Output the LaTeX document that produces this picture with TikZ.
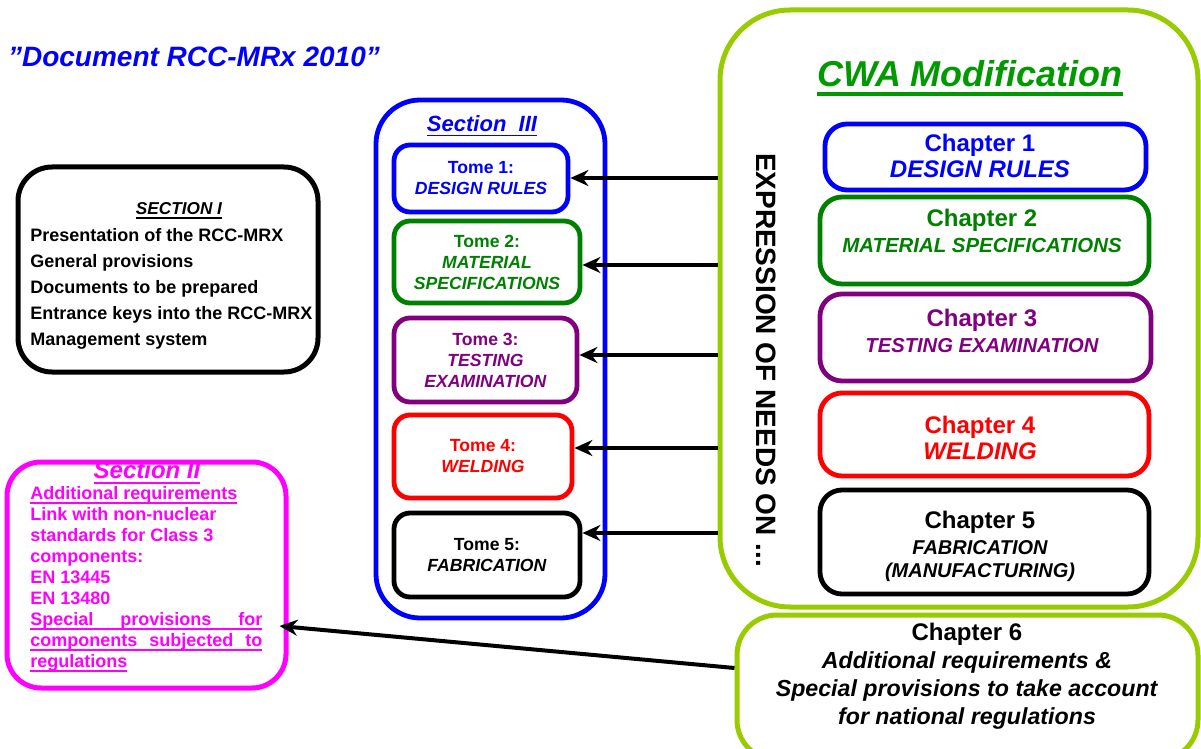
\documentclass[tikz,border=0pt]{standalone}
\usepackage{fontspec}
\setmainfont{Liberation Sans}
\usetikzlibrary{arrows.meta}

\definecolor{secblue}{RGB}{0,0,255}
\definecolor{tomegreen}{RGB}{0,128,0}
\definecolor{tomepurple}{RGB}{128,0,128}
\definecolor{secmagenta}{RGB}{255,0,255}
\definecolor{cwalime}{RGB}{153,204,0}
\definecolor{cwagreen}{RGB}{0,153,0}

% underlined box: optional rule thickness
\newcommand{\ulbox}[2][1pt]{\leavevmode\setbox0\hbox{#2}\rlap{\smash{\vrule width\wd0 height\dimexpr-0.15em\relax depth\dimexpr0.15em+#1\relax}}\box0}

\begin{document}
\begin{tikzpicture}[
    x=0.5pt, y=-0.5pt,
    box/.style={draw, line width=2.5pt, rounded corners=17pt, inner sep=0pt},
    tome/.style={draw, line width=2.4pt, rounded corners=8pt, align=center, inner sep=0pt, font=\bfseries\fontsize{8.8}{10.5}\selectfont},
    chapter/.style={draw, line width=2.4pt, rounded corners=11pt, inner sep=0pt},
    chaptext/.style={align=center, inner sep=0pt, font=\bfseries\fontsize{12}{13}\selectfont},
    arrow/.style={-{Stealth[length=9pt,width=8pt]}, line width=2pt}
]
    \useasboundingbox (0,0) rectangle (1201,749);
    \clip (0,0) rectangle (1201,749);

    % Title
    \node[text=secblue, font=\bfseries\itshape\fontsize{14}{16}\selectfont] (doctitle) at (194,57) {\symbol{34}Document RCC-MRx 2010\symbol{34}};

    % Section I
    \node[box, minimum width=150pt, minimum height=102.5pt] (sec1) at (168,269.5) {};
    \node[font=\bfseries\itshape\fontsize{8.6}{10}\selectfont] (sec1title) at (179,209) {\ulbox[0.6pt]{SECTION I}};
    \node[anchor=west, align=left, inner sep=0pt, font=\bfseries\fontsize{9}{13}\selectfont] (sec1list) at (30,289)
        {Presentation of the RCC-MRX\\ General provisions\\ Documents to be prepared\\ Entrance keys into the RCC-MRX\\ Management system};

    % Section II
    \node[box, draw=secmagenta, minimum width=139.5pt, minimum height=113pt] (sec2) at (146.5,575) {};
    \node[text=secmagenta, font=\bfseries\itshape\fontsize{12}{14}\selectfont] (sec2title) at (147,470) {\ulbox{Section II}};
    \node[anchor=west, align=left, inner sep=0pt, text=secmagenta, font=\bfseries\fontsize{9}{10.5}\selectfont] (sec2list) at (30,579)
        {\ulbox{Additional requirements}\\ Link with non-nuclear\\ standards for Class 3\\ components:\\ EN 13445\\ EN 13480\\
         \ulbox{\makebox[116pt][s]{Special provisions for}}\\ \ulbox{\makebox[116pt][s]{components subjected to}}\\ \ulbox{regulations}};

    % Section III
    \node[box, draw=secblue, line width=2.4pt, rounded corners=22pt, minimum width=114.5pt, minimum height=259pt] (sec3) at (490.5,359) {};
    \node[text=secblue, font=\bfseries\itshape\fontsize{11}{13}\selectfont] (sec3title) at (482,124) {\ulbox[0.6pt]{Section\ \ III}};

    \node[tome, draw=secblue, text=secblue, minimum width=87pt, minimum height=33.5pt] (t1) at (481,178.5) {Tome 1:\\ \textit{DESIGN RULES}};
    \node[tome, draw=tomegreen, text=tomegreen, minimum width=93pt, minimum height=41pt] (t2) at (487,262) {Tome 2:\\ \textit{MATERIAL}\\ \textit{SPECIFICATIONS}};
    \node[tome, draw=tomepurple, text=tomepurple, minimum width=91.5pt, minimum height=42pt] (t3) at (485.5,360) {Tome 3:\\ \textit{TESTING}\\ \textit{EXAMINATION}};
    \node[tome, draw=red, text=red, minimum width=89pt, minimum height=41.5pt] (t4) at (483,456.5) {Tome 4:\\ \textit{WELDING}};
    \node[tome, draw=black, text=black, minimum width=93pt, minimum height=42pt] (t5) at (487,555) {Tome 5:\\ \textit{FABRICATION}};

    % CWA Modification
    \node[box, draw=cwalime, rounded corners=35pt, minimum width=239pt, minimum height=298.5pt] (cwa) at (959,308.5) {};
    \node[text=cwagreen, font=\bfseries\itshape\fontsize{18}{20}\selectfont] (cwatitle) at (970,74) {\ulbox[2pt]{CWA Modification}};
    \node[rotate=-90, font=\bfseries\fontsize{14}{16}\selectfont] (needs) at (766,360) {EXPRESSION OF NEEDS ON ...};

    \node[chapter, draw=secblue, minimum width=160.5pt, minimum height=33pt] (c1) at (985.5,157) {};
    \node[chapter, draw=tomegreen, minimum width=164.5pt, minimum height=43.5pt] (c2) at (984.5,240.5) {};
    \node[chapter, draw=tomepurple, minimum width=165.5pt, minimum height=43.5pt] (c3) at (985.5,337.5) {};
    \node[chapter, draw=red, minimum width=164.5pt, minimum height=41.5pt] (c4) at (984.5,434.5) {};
    \node[chapter, draw=black, minimum width=164.5pt, minimum height=52pt] (c5) at (984.5,542) {};
    \node[chapter, draw=cwalime, line width=2.5pt, rounded corners=20pt, minimum width=230.5pt, minimum height=72.5pt] (c6) at (967.5,687.5) {};

    \node[chaptext, text=secblue] (c1text) at (980,156) {Chapter 1\\ \textit{DESIGN RULES}};
    \node[chaptext, text=tomegreen] (c2text) at (982,231) {Chapter 2\\ {\fontsize{10.2}{12}\selectfont\itshape MATERIAL SPECIFICATIONS}};
    \node[chaptext, text=tomepurple] (c3text) at (982,331) {Chapter 3\\ {\fontsize{10.1}{12}\selectfont\itshape TESTING EXAMINATION}};
    \node[chaptext, text=red] (c4text) at (980,438) {Chapter 4\\ \textit{WELDING}};
    \node[chaptext, text=black] (c5text) at (980,546) {Chapter 5\\ {\fontsize{10}{12}\selectfont\itshape FABRICATION}\\[-1.5pt] {\fontsize{10}{12}\selectfont\itshape (MANUFACTURING)}};
    \node[chaptext, font=\bfseries\fontsize{11.6}{14}\selectfont] (c6text) at (967,676)
        {{\fontsize{12}{14}\selectfont Chapter 6}\\ \textit{Additional requirements \&}\\ \textit{Special provisions to take account}\\ \textit{for national regulations}};

    % Connections
    \foreach \i/\y in {1/178,2/265,3/355,4/448,5/533}
        \draw[arrow] (cwa.west |- 0,\y) -- (t\i.east |- 0,\y);

    \draw[arrow] ([yshift=9.75pt]c6.west) -- ([xshift=-4.5pt,yshift=-25.5pt]sec2.east);
\end{tikzpicture}
\end{document}
